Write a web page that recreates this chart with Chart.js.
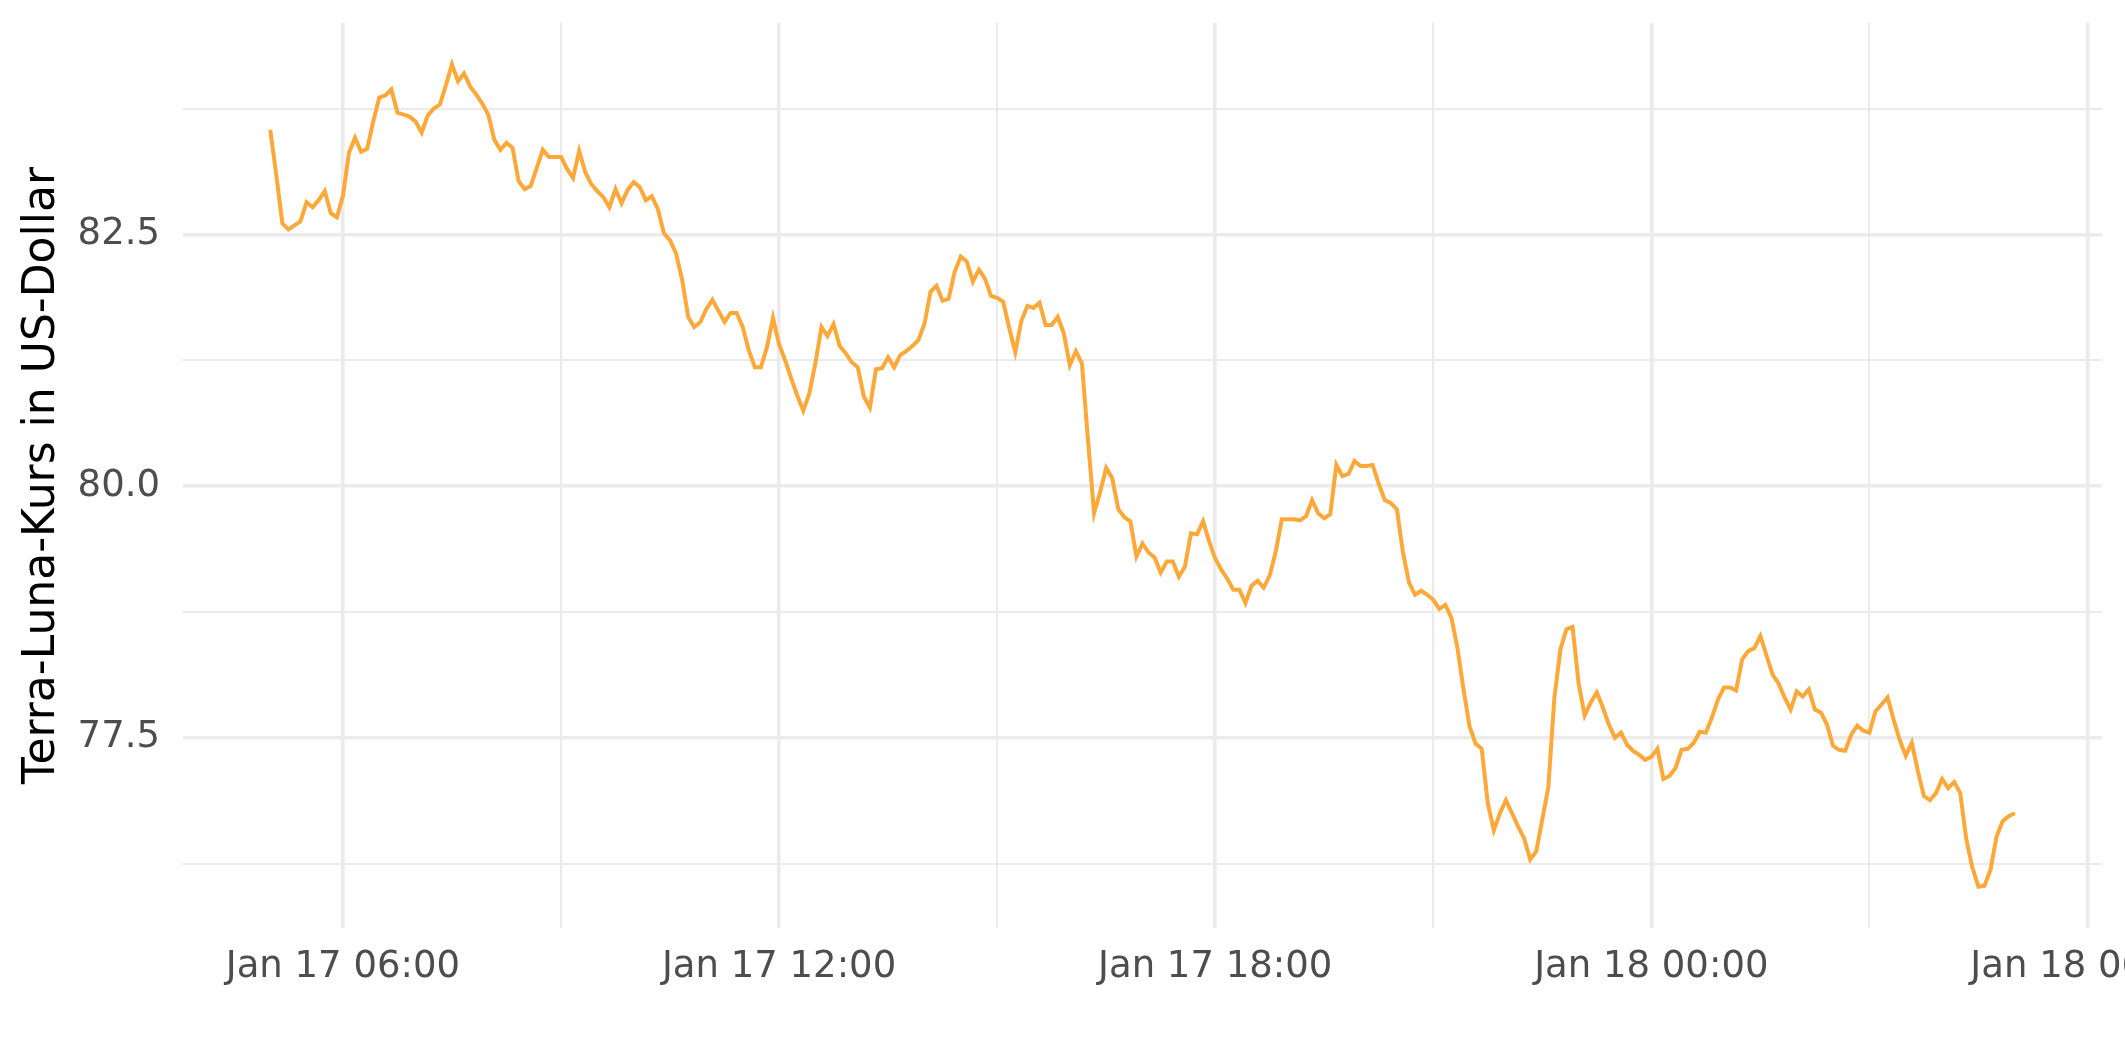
<!DOCTYPE html>
<html>
<head>
<meta charset="utf-8">
<script src="https://cdn.jsdelivr.net/npm/chart.js@4.4.1/dist/chart.umd.min.js"></script>
<style>
  html, body { margin: 0; padding: 0; background: #fff; overflow: hidden; }
  #wrap { width: 2125px; height: 1062px; position: relative; }
</style>
</head>
<body>
<div id="wrap"><canvas id="kursChart"></canvas></div>
<script>
// Terra-Luna price in USD, one value every 5 minutes from Jan 17 05:00 to Jan 18 05:00
const startHour = 5;      // hours after Jan 17 00:00
const stepMinutes = 5;
const kurs = [
  83.54, 83.09, 82.61, 82.55, 82.59, 82.63, 82.82, 82.77, 82.84, 82.93, 82.71, 82.67,
  82.88, 83.31, 83.46, 83.32, 83.35, 83.62, 83.86, 83.88, 83.94, 83.71, 83.69, 83.67,
  83.62, 83.51, 83.68, 83.75, 83.79, 83.98, 84.19, 84.02, 84.10, 83.97, 83.89, 83.80,
  83.69, 83.44, 83.34, 83.41, 83.36, 83.03, 82.95, 82.98, 83.16, 83.34, 83.27, 83.27,
  83.27, 83.15, 83.06, 83.33, 83.12, 83.00, 82.93, 82.87, 82.77, 82.95, 82.81, 82.94,
  83.02, 82.97, 82.84, 82.88, 82.75, 82.51, 82.44, 82.31, 82.05, 81.68, 81.58, 81.63,
  81.76, 81.85, 81.74, 81.63, 81.72, 81.72, 81.58, 81.35, 81.18, 81.18, 81.38, 81.67,
  81.41, 81.25, 81.07, 80.90, 80.75, 80.92, 81.22, 81.58, 81.49, 81.61, 81.39, 81.32,
  81.23, 81.18, 80.89, 80.78, 81.16, 81.17, 81.28, 81.18, 81.30, 81.34, 81.39, 81.45,
  81.61, 81.93, 81.99, 81.84, 81.86, 82.13, 82.28, 82.23, 82.03, 82.15, 82.06, 81.89,
  81.87, 81.83, 81.57, 81.33, 81.64, 81.79, 81.77, 81.82, 81.60, 81.60, 81.68, 81.52,
  81.20, 81.34, 81.22, 80.46, 79.73, 79.94, 80.18, 80.08, 79.77, 79.69, 79.65, 79.30,
  79.43, 79.34, 79.29, 79.14, 79.25, 79.25, 79.10, 79.20, 79.53, 79.52, 79.65, 79.45,
  79.28, 79.17, 79.08, 78.97, 78.97, 78.84, 79.01, 79.06, 78.99, 79.11, 79.35, 79.67,
  79.67, 79.67, 79.66, 79.70, 79.86, 79.73, 79.68, 79.72, 80.21, 80.10, 80.12, 80.25,
  80.20, 80.20, 80.21, 80.02, 79.86, 79.83, 79.77, 79.34, 79.04, 78.92, 78.96, 78.92,
  78.87, 78.78, 78.82, 78.69, 78.39, 77.98, 77.61, 77.44, 77.39, 76.85, 76.58, 76.75,
  76.88, 76.75, 76.62, 76.50, 76.29, 76.37, 76.69, 77.01, 77.90, 78.38, 78.58, 78.60,
  78.04, 77.72, 77.85, 77.95, 77.80, 77.63, 77.50, 77.55, 77.43, 77.37, 77.33, 77.28,
  77.31, 77.39, 77.09, 77.12, 77.20, 77.38, 77.39, 77.45, 77.56, 77.55, 77.70, 77.88,
  78.00, 78.00, 77.97, 78.28, 78.36, 78.39, 78.51, 78.32, 78.13, 78.04, 77.90, 77.78,
  77.96, 77.91, 77.98, 77.78, 77.75, 77.63, 77.42, 77.38, 77.37, 77.53, 77.62, 77.57,
  77.55, 77.76, 77.83, 77.90, 77.68, 77.48, 77.32, 77.45, 77.17, 76.92, 76.88, 76.95,
  77.09, 77.00, 77.06, 76.95, 76.49, 76.21, 76.02, 76.03, 76.19, 76.52, 76.67, 76.72, 76.75
];

// axis ticks (x in hours after Jan 17 00:00)
const xTicks = [6, 9, 12, 15, 18, 21, 24, 27, 30];
const xLabelTicks = [6, 12, 18, 24, 30];
const yTicks = [76.25, 77.5, 78.75, 80, 81.25, 82.5, 83.75];
const yLabelTicks = [77.5, 80, 82.5];
const xRange = [3.8, 30.2];
const yRange = [75.61, 84.6];

function timeLabel(h) {
  const day = 17 + Math.floor(h / 24);
  const hh = String(h % 24).padStart(2, '0');
  return 'Jan ' + day + ' ' + hh + ':00';
}

const points = kurs.map((v, i) => ({ x: startHour + i * stepMinutes / 60, y: v }));

const gridColor = '#EBEBEB';
const tickFont = { family: 'DejaVu Sans', size: 37 };

new Chart(document.getElementById('kursChart'), {
  type: 'line',
  data: {
    datasets: [{
      data: points,
      borderColor: '#FFA83A',
      borderWidth: 4,
      pointRadius: 0,
      tension: 0,
      fill: false
    }]
  },
  options: {
    responsive: true,
    maintainAspectRatio: false,
    animation: false,
    layout: { padding: { top: 23, right: 23, left: 0, bottom: 0 } },
    plugins: { legend: { display: false }, tooltip: { enabled: false } },
    scales: {
      x: {
        type: 'linear',
        min: xRange[0],
        max: xRange[1],
        afterBuildTicks: s => { s.ticks = xTicks.map(v => ({ value: v })); },
        afterFit: s => { s.height = 134; s.paddingLeft = 0; s.paddingRight = 0; },
        border: { display: false },
        grid: {
          color: gridColor,
          drawTicks: false,
          lineWidth: ctx => (ctx.tick && xLabelTicks.includes(ctx.tick.value)) ? 3.6 : 2
        },
        ticks: {
          autoSkip: false,
          maxRotation: 0,
          padding: 17,
          color: '#4D4D4D',
          font: tickFont,
          callback: v => xLabelTicks.includes(v) ? timeLabel(v) : ''
        }
      },
      y: {
        min: yRange[0],
        max: yRange[1],
        afterBuildTicks: s => { s.ticks = yTicks.map(v => ({ value: v })); },
        afterFit: s => { s.width = 183; s.paddingTop = 0; s.paddingBottom = 0; },
        border: { display: false },
        grid: {
          color: gridColor,
          drawTicks: false,
          lineWidth: ctx => (ctx.tick && yLabelTicks.includes(ctx.tick.value)) ? 3.6 : 2
        },
        ticks: {
          autoSkip: false,
          padding: 23,
          color: '#4D4D4D',
          font: tickFont,
          callback: v => yLabelTicks.includes(v) ? v.toFixed(1) : ''
        },
        title: {
          display: true,
          text: 'Terra-Luna-Kurs in US-Dollar',
          color: '#000000',
          font: { family: 'DejaVu Sans', size: 44 },
          padding: { top: 16, bottom: 0 }
        }
      }
    }
  }
});
</script>
</body>
</html>
